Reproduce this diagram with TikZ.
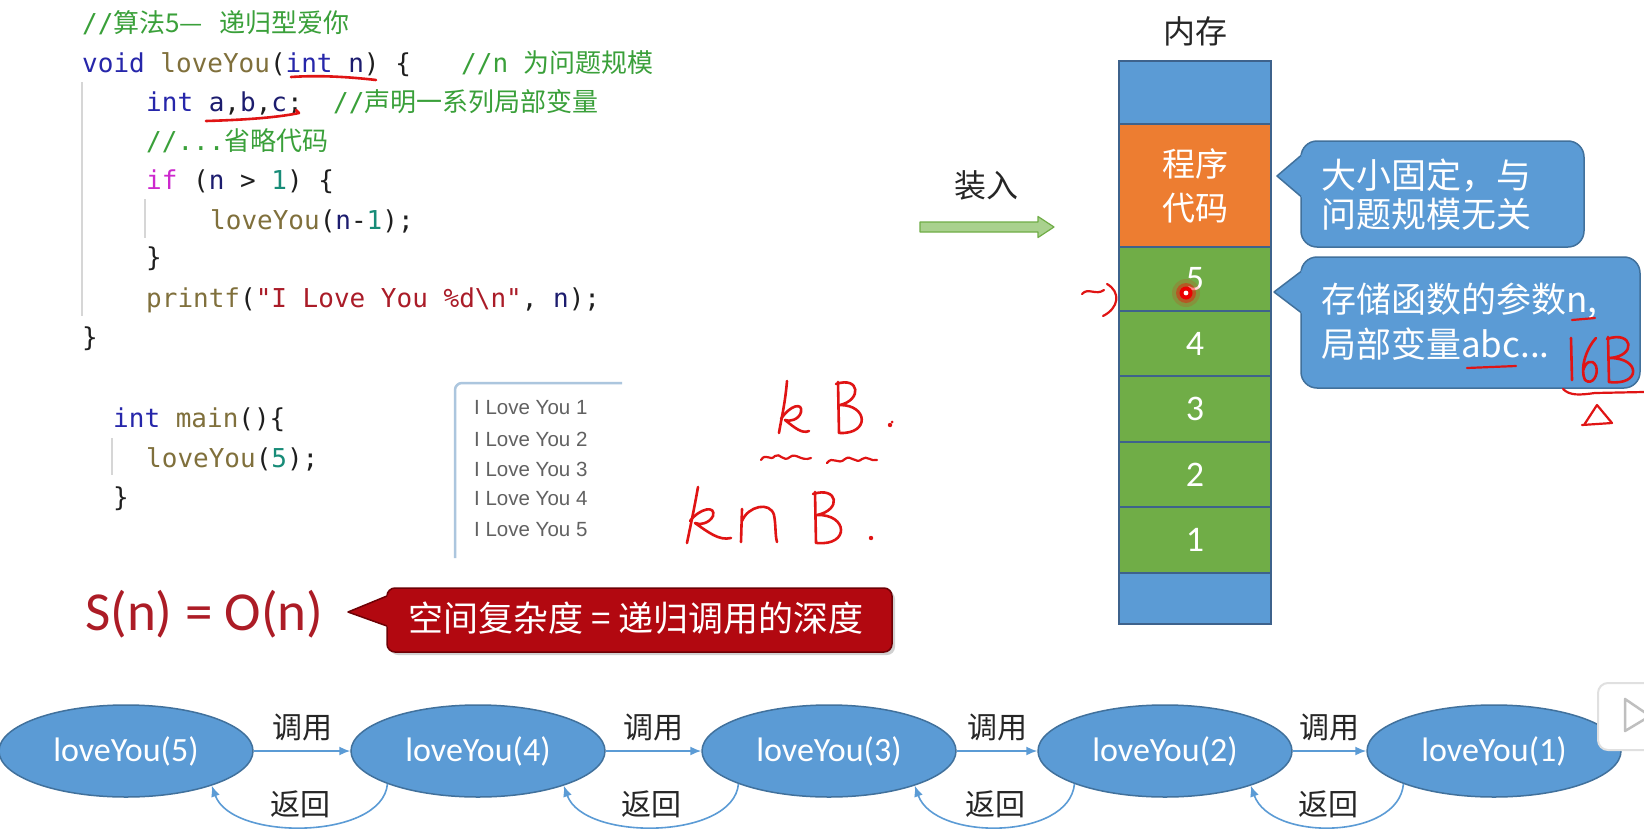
\documentclass[tikz,border=0pt]{standalone}
\usepackage{fontspec}
\usetikzlibrary{arrows.meta,shapes.geometric}
\setmainfont{Carlito}
\newfontfamily\cjk{Noto Sans CJK SC}
\newfontfamily\codefont{DejaVu Sans Mono}
\newfontfamily\uifont{Liberation Sans}
\newfontfamily\calfont{Carlito}
\newcommand\setfs[2]{\fontsize{#1}{#2}\selectfont}

% syntax colours
\definecolor{kwc}{RGB}{38,38,170}
\definecolor{fnc}{RGB}{128,112,60}
\definecolor{varc}{RGB}{28,28,110}
\definecolor{numc}{RGB}{24,140,120}
\definecolor{ctlc}{RGB}{205,40,205}
\definecolor{strc}{RGB}{170,28,40}
\definecolor{cmtc}{RGB}{58,160,58}
\definecolor{punc}{RGB}{30,30,30}
\definecolor{guide}{RGB}{214,214,214}
% figure colours
\definecolor{blueF}{RGB}{91,155,213}
\definecolor{blueD}{RGB}{65,113,156}
\definecolor{orangeF}{RGB}{237,125,49}
\definecolor{greenF}{RGB}{112,173,71}
\definecolor{colline}{RGB}{62,98,140}
\definecolor{arrowfill}{RGB}{169,209,142}
\definecolor{arrowline}{RGB}{112,173,71}
\definecolor{redF}{RGB}{178,8,16}
\definecolor{redD}{RGB}{110,0,5}
\definecolor{formula}{RGB}{172,28,38}
\definecolor{ink}{RGB}{224,20,20}
\definecolor{outbox}{RGB}{172,198,222}

\newcommand\kwd[1]{\textcolor{kwc}{#1}}
\newcommand\fnm[1]{\textcolor{fnc}{#1}}
\newcommand\vrb[1]{\textcolor{varc}{#1}}
\newcommand\nmb[1]{\textcolor{numc}{#1}}
\newcommand\ctl[1]{\textcolor{ctlc}{#1}}
\newcommand\strg[1]{\textcolor{strc}{#1}}

\tikzset{
  code/.style={anchor=base west, inner sep=0pt, font={\codefont\setfs{26}{26}}, text=punc},
  cmt/.style={anchor=base west, inner sep=0pt, font={\cjk\setfs{26}{26}}, text=cmtc},
  guideline/.style={draw=guide, line width=1.5pt},
  outline/.style={anchor=west, inner sep=0pt, font={\uifont\setfs{20.5}{20.5}}, text=black!62},
  cell/.style={draw=colline, line width=1.5pt, minimum width=152pt, inner sep=0pt,
               text=white, font={\calfont\setfs{36}{36}}},
  big/.style={inner sep=0pt, font={\cjk\setfs{32}{32}}, text=black!85},
  bubble/.style={fill=blueF, draw=blueD, line width=1.5pt, rounded corners=16pt},
  bubtext/.style={anchor=west, inner sep=0pt, font={\cjk\setfs{35}{35}}, text=white},
  ell/.style={ellipse, fill=blueF, draw=blueD, line width=1.5pt, minimum width=254pt,
              minimum height=92pt, inner sep=0pt, text=white, font={\calfont\setfs{34}{34}}},
  callarr/.style={draw=blueF, line width=1.6pt, -{Latex[length=11pt,width=9pt]}},
  lbl/.style={font={\cjk\setfs{30}{30}}, text=black!85, inner sep=2pt},
  hand/.style={draw=ink, line width=2.6pt, line cap=round, line join=round},
}

\begin{document}
\begin{tikzpicture}[x=1pt,y=-1pt]
\useasboundingbox (0,0) rectangle (1644,835);
\clip (0,0) rectangle (1644,835);
\fill[white] (0,0) rectangle (1644,835);

% ---------- source code ----------
\draw[guideline] (82,82) -- (82,316);
\draw[guideline] (145,199) -- (145,238);
\node[cmt] (c1a) at (82,32) {{\codefont //}算法5—};
\node[cmt] (c1b) at (219,32) {递归型爱你};
\node[code] (c2) at (82,72) {\kwd{void} \fnm{loveYou}(\kwd{int} \vrb{n}) \{};
\node[cmt] (c2c) at (461,72) {{\codefont //n }为问题规模};
\node[code] (c3) at (146,111) {\kwd{int} \vrb{a},\vrb{b},\vrb{c};};
\node[cmt] (c3c) at (333,111) {{\codefont //}声明一系列局部变量};
\node[cmt] (c4) at (146,150) {{\codefont //...}省略代码};
\node[code] (c5) at (146,189) {\ctl{if} (\vrb{n} > \nmb{1}) \{};
\node[code] (c6) at (210,229) {\fnm{loveYou}(\vrb{n}-\nmb{1});};
\node[code] (c7) at (146,266) {\}};
\node[code] (c8) at (146,307) {\fnm{printf}(\strg{"I Love You \%d\textbackslash n"}, \vrb{n});};
\node[code] (c9) at (82,346) {\}};

\draw[guideline] (112,438) -- (112,475);
\node[code] (m1) at (113,427) {\kwd{int} \fnm{main}()\{};
\node[code] (m2) at (146,467) {\fnm{loveYou}(\nmb{5});};
\node[code] (m3) at (113,506) {\}};

% ---------- console output ----------
\draw[draw=outbox, line width=2.5pt, rounded corners=7pt] (622,383) -- (455,383) -- (455,558);
\node[outline] (o1) at (474,408) {I Love You 1};
\node[outline] (o2) at (474,439) {I Love You 2};
\node[outline] (o3) at (474,469) {I Love You 3};
\node[outline] (o4) at (474,499) {I Love You 4};
\node[outline] (o5) at (474,530) {I Love You 5};

% ---------- complexity ----------
\node[anchor=base west, inner sep=0pt, font={\calfont\setfs{55}{55}}, text=formula] (sn) at (85,630) {S(n) = O(n)};
\fill[black, opacity=0.18, rounded corners=8pt] (390,591) rectangle (895,655);
\draw[fill=redF, draw=redD, line width=1.5pt, rounded corners=8pt] (387,588) rectangle (892,652);
\fill[redF] (388.6,627) -- (348,612) -- (388.6,595) -- cycle;
\draw[redD, line width=1.5pt, line join=round] (387,596) -- (348,612) -- (387,626);
\node[inner sep=0pt, font={\cjk\setfs{35}{35}}, text=white] (sdef) at (636,618) {空间复杂度 = 递归调用的深度};

% ---------- memory ----------
\node[big] (mem) at (1195,31) {内存};
\node[cell, fill=blueF, minimum height=63pt] (mtop) at (1195,92.5) {};
\node[cell, fill=orangeF, minimum height=123pt, align=center, font={\cjk\setfs{33}{44}}] (mcode) at (1195,185.5) {程序\\代码};
\node[cell, fill=greenF, minimum height=64pt] (s5) at (1195,279) {5};
\node[cell, fill=greenF, minimum height=65pt] (s4) at (1195,343.5) {4};
\node[cell, fill=greenF, minimum height=66pt] (s3) at (1195,409) {3};
\node[cell, fill=greenF, minimum height=65pt] (s2) at (1195,474.5) {2};
\node[cell, fill=greenF, minimum height=66pt] (s1) at (1195,540) {1};
\node[cell, fill=blueF, minimum height=51pt] (mbot) at (1195,598.5) {};

\node[big] (load) at (986,185) {装入};
\draw[fill=arrowfill, draw=arrowline, line width=1.2pt, line join=round]
  (920,222) -- (1038,222) -- (1038,216.5) -- (1054,227) -- (1038,237.5) -- (1038,232) -- (920,232) -- cycle;

% callouts
\draw[bubble] (1301,141) rectangle (1584,247);
\fill[blueF] (1302.6,198) -- (1277,176) -- (1302.6,154) -- cycle;
\draw[blueD, line width=1.5pt, line join=round] (1301,155.5) -- (1277,176) -- (1301,196.5);
\node[bubtext] (b1a) at (1321,176) {大小固定，与};
\node[bubtext] (b1b) at (1321,214) {问题规模无关};

\draw[bubble] (1301,257) rectangle (1640,388);
\fill[blueF] (1302.6,314) -- (1274,292) -- (1302.6,270) -- cycle;
\draw[blueD, line width=1.5pt, line join=round] (1301,271.5) -- (1274,292) -- (1301,312.5);
\node[bubtext] (b2a) at (1321,301) {存储函数的参数n,};
\node[bubtext] (b2b) at (1321,344) {局部变量abc...};

% ---------- call chain ----------
\node[ell] (e5) at (126,751) {loveYou(5)};
\node[ell] (e4) at (478,751) {loveYou(4)};
\node[ell] (e3) at (829,751) {loveYou(3)};
\node[ell] (e2) at (1165,751) {loveYou(2)};
\node[ell] (e1) at (1494,751) {loveYou(1)};

\foreach \a/\b in {e5/e4, e4/e3, e3/e2, e2/e1}{
  \draw[callarr] (\a.east) -- node[lbl, above=7pt] {调用} (\b.west);
  \draw[callarr] (\b.200) .. controls +(-5,56) and +(20,56) .. node[lbl, above=6pt, pos=0.52] {返回} (\a.338);
}

% ---------- pen annotations ----------
\draw[hand] (291,77) .. controls (320,75) and (350,77) .. (376,80);
\draw[hand] (206,121) .. controls (240,120) and (275,118) .. (299,113) -- (296,110);
% kB.
\draw[hand] (787,381) .. controls (785,405) and (781,420) .. (779,433);
\draw[hand] (781,419) .. controls (790,405) and (803,402) .. (801,412) .. controls (799,420) and (789,422) .. (785,420)
            .. controls (795,428) and (802,434) .. (809,431);
\draw[hand] (838,382) -- (839,433);
\draw[hand] (836,384) .. controls (860,376) and (862,400) .. (840,405) .. controls (868,405) and (870,434) .. (840,433);
\fill[ink] (890,425) circle[radius=2.2pt];
\draw[hand, line width=2.2pt] (761,460) .. controls (766,452) and (770,462) .. (775,456) .. controls (780,452) and (783,463) .. (790,457) .. controls (796,452) and (801,462) .. (811,458);
\draw[hand, line width=2.2pt] (827,463) .. controls (833,455) and (838,466) .. (845,459) .. controls (851,454) and (856,465) .. (862,459) .. controls (867,455) and (871,462) .. (877,460);
% knB.
\draw[hand] (698,487) .. controls (694,510) and (690,528) .. (687,543);
\draw[hand] (690,521) .. controls (700,508) and (716,505) .. (713,516) .. controls (709,524) and (699,525) .. (695,523)
            .. controls (708,532) and (719,541) .. (731,538);
\draw[hand] (742,509) -- (741,542);
\draw[hand] (742,521) .. controls (748,506) and (770,501) .. (774,515) .. controls (776,525) and (775,535) .. (777,542);
\draw[hand] (815,492) -- (816,543);
\draw[hand] (813,494) .. controls (838,486) and (842,510) .. (817,515) .. controls (848,514) and (850,546) .. (817,543);
\fill[ink] (871,538) circle[radius=2.2pt];
% 16B and marks by the stack
\draw[hand, line width=2.2pt] (1572,320) -- (1595,318);
\draw[hand, line width=2.2pt] (1467,368) -- (1516,366);
\draw[hand] (1571,338) -- (1572,380);
\draw[hand] (1596,338) .. controls (1585,350) and (1580,370) .. (1585,380) .. controls (1592,386) and (1599,375) .. (1596,366) .. controls (1592,358) and (1585,362) .. (1583,371);
\draw[hand] (1608,337) -- (1609,382);
\draw[hand] (1607,339) .. controls (1633,330) and (1637,356) .. (1610,358) .. controls (1641,358) and (1641,386) .. (1609,382);
\draw[hand, line width=2.2pt] (1563,389) .. controls (1570,396) and (1580,395) .. (1595,393) -- (1644,392);
\draw[hand, line width=2.2pt] (1584,425) -- (1597,405) -- (1612,423) -- (1582,425);
\draw[hand, line width=2.2pt] (1082,294) .. controls (1088,287) and (1096,296) .. (1104,290);
\draw[hand, line width=2.2pt] (1107,284) .. controls (1121,292) and (1119,308) .. (1103,316);
\fill[ink] (892,422) circle[radius=1.5pt];
% pointer dot
\fill[red, opacity=0.15] (1186,293) circle[radius=14pt];
\fill[red, opacity=0.4] (1186,293) circle[radius=10pt];
\fill[red!92!black] (1186,293) circle[radius=6.5pt];
\fill[white] (1186,293) circle[radius=2.4pt];

% ---------- player overlay ----------
\draw[draw=black!12, fill=white, line width=2pt, rounded corners=10pt] (1598,683) rectangle (1670,750);
\draw[draw=black!25, line width=2.5pt, line join=round] (1625,699) -- (1650,716) -- (1625,731) -- cycle;
\end{tikzpicture}
\end{document}
